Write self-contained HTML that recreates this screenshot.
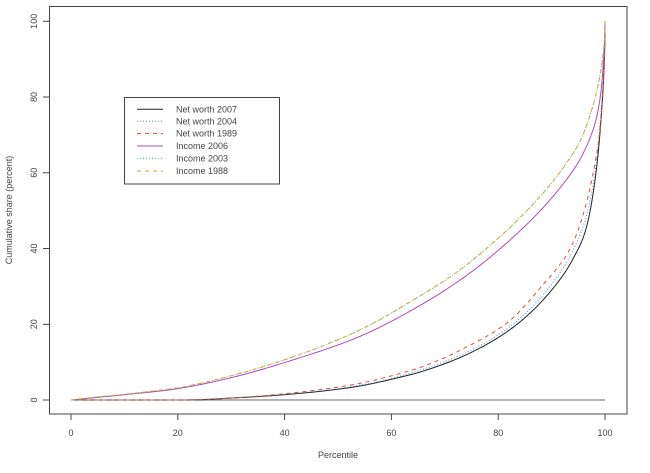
<!DOCTYPE html>
<html><head><meta charset="utf-8"><style>
html,body{margin:0;padding:0;background:#fff;}
svg{display:block;}
text{font-family:"Liberation Sans",Arial,sans-serif;font-size:9px;fill:#444;}
</style></head><body>
<svg id="s" width="650" height="473" viewBox="0 0 650 473" xmlns="http://www.w3.org/2000/svg">
<rect x="0" y="0" width="650" height="473" fill="#fff"/>
<line x1="71" y1="400" x2="605" y2="400" stroke="#666" stroke-width="1"/>
<g id="curves" transform="translate(71,400) scale(5.34,-3.787)" fill="none">
<polyline id="c0" vector-effect="non-scaling-stroke" stroke="#222" stroke-width="1" points="0,0 20,0 25,0.1 29.2,0.45 35,0.9 41.6,1.6 48,2.5 54.1,3.7 61.6,6 65.4,7.4 74.1,12 82.8,19.2 89.7,28.5 94.1,37.5 96.6,46 98.4,61 99.4,77 100,100"/>
<polyline id="c1" vector-effect="non-scaling-stroke" stroke="#3f8fd6" stroke-width="1" stroke-dasharray="1,2" points="0,0 20,0 29.2,0.5 41.6,1.7 54.1,3.9 61.6,6.3 74.1,12.6 82.8,20 89.7,30 94.1,39.8 96.6,49 98.4,63 99.4,79 100,100"/>
<polyline id="c2" vector-effect="non-scaling-stroke" stroke="#e0502c" stroke-width="1" stroke-dasharray="4,4" points="0,0 20,0 25,0.15 30,0.5 41.6,1.9 54.1,4.4 61.6,7 65.4,8.6 74.1,14 82.2,21 87.8,29.5 94.1,41.8 97.8,60 99.1,72 99.7,83 100,100"/>
<polyline id="c3" vector-effect="non-scaling-stroke" stroke="#b04cb4" stroke-width="1" points="0,0 10,1.4 20,3 30,5.9 41.6,10.6 54.1,16.8 65.4,25 74,32.8 82.8,43 91,55 95.3,63.5 97,68.5 98.4,74.5 99.2,81 99.7,89 100,100"/>
<polyline id="c4" vector-effect="non-scaling-stroke" stroke="#1ccc5a" stroke-width="1" stroke-dasharray="1,2" points="0,0 4.2,0.7 10,1.5 16.7,2.6 20,3.2 29.2,6.1 41.6,11.4 54.1,18.5 64.8,27 72,33.5 80.3,43.1 87.8,53.7 92.8,62.6 95.3,68.3 97.8,78 99.1,86 99.7,92 100,100"/>
<polyline id="c5" vector-effect="non-scaling-stroke" stroke="#e39a3a" stroke-width="1" stroke-dasharray="4,4" points="0,0 4.2,0.7 10,1.5 16.7,2.6 20,3.2 29.2,6.1 41.6,11.4 54.1,18.5 64.8,27 72,33.5 80.3,43.1 87.8,53.7 92.8,62.6 95.3,68.3 97.8,78 99.1,86 99.7,92 100,100"/>
</g>
<rect x="49.5" y="6.5" width="577.5" height="407.5" fill="none" stroke="#444" stroke-width="1"/>
<g stroke="#444" stroke-width="1">
<line x1="49.5" y1="400" x2="43" y2="400"/>
<line x1="49.5" y1="324.3" x2="43" y2="324.3"/>
<line x1="49.5" y1="248.5" x2="43" y2="248.5"/>
<line x1="49.5" y1="172.8" x2="43" y2="172.8"/>
<line x1="49.5" y1="97" x2="43" y2="97"/>
<line x1="49.5" y1="21.3" x2="43" y2="21.3"/>
<line x1="71" y1="414" x2="71" y2="420"/>
<line x1="177.8" y1="414" x2="177.8" y2="420"/>
<line x1="284.6" y1="414" x2="284.6" y2="420"/>
<line x1="391.4" y1="414" x2="391.4" y2="420"/>
<line x1="498.2" y1="414" x2="498.2" y2="420"/>
<line x1="605" y1="414" x2="605" y2="420"/>
</g>
<g text-anchor="middle">
<text transform="translate(37,400) rotate(-90)">0</text>
<text transform="translate(37,324.3) rotate(-90)">20</text>
<text transform="translate(37,248.5) rotate(-90)">40</text>
<text transform="translate(37,172.8) rotate(-90)">60</text>
<text transform="translate(37,97) rotate(-90)">80</text>
<text transform="translate(37,21.3) rotate(-90)">100</text>
<text x="71" y="436">0</text>
<text x="177.8" y="436">20</text>
<text x="284.6" y="436">40</text>
<text x="391.4" y="436">60</text>
<text x="498.2" y="436">80</text>
<text x="605" y="436">100</text>
<text x="338" y="458">Percentile</text>
<text transform="translate(12,210) rotate(-90)">Cumulative share (percent)</text>
</g>
<rect x="124.5" y="97.5" width="155" height="86.5" fill="#fff" stroke="#444" stroke-width="1"/>
<g stroke-width="1">
<line x1="137" y1="109.3" x2="163" y2="109.3" stroke="#222"/>
<line x1="137" y1="121.3" x2="163" y2="121.3" stroke="#3f8fd6" stroke-dasharray="1,2"/>
<line x1="137" y1="133.5" x2="163" y2="133.5" stroke="#e0502c" stroke-dasharray="4,4"/>
<line x1="137" y1="146" x2="163" y2="146" stroke="#b04cb4"/>
<line x1="137" y1="158.3" x2="163" y2="158.3" stroke="#1ccc5a" stroke-dasharray="1,2"/>
<line x1="137" y1="171" x2="163" y2="171" stroke="#e39a3a" stroke-dasharray="4,4"/>
</g>
<g>
<text x="176" y="112.5">Net worth 2007</text>
<text x="176" y="124.5">Net worth 2004</text>
<text x="176" y="136.7">Net worth 1989</text>
<text x="176" y="149.2">Income 2006</text>
<text x="176" y="161.5">Income 2003</text>
<text x="176" y="174.2">Income 1988</text>
</g>
</svg>
<script>
(function(){
function parse(str){return str.trim().split(/\s+/).map(function(s){var a=s.split(',');return [parseFloat(a[0]),parseFloat(a[1])];});}
function mono(pts){
  var tp=pts.map(function(p){return [Math.sqrt(Math.max(0,1-p[0]/100)),p[1]];});
  tp.sort(function(a,b){return a[0]-b[0];});
  var n=tp.length,x=tp.map(function(p){return p[0];}),y=tp.map(function(p){return p[1];});
  var d=[],m=[],i;
  for(i=0;i<n-1;i++)d.push((y[i+1]-y[i])/(x[i+1]-x[i]));
  m[0]=d[0];m[n-1]=d[n-2];
  for(i=1;i<n-1;i++)m[i]=(d[i-1]*d[i]<=0)?0:(d[i-1]+d[i])/2;
  for(i=0;i<n-1;i++){
    if(d[i]===0){m[i]=0;m[i+1]=0;continue;}
    var a=m[i]/d[i],b=m[i+1]/d[i],s=a*a+b*b;
    if(s>9){var t=3/Math.sqrt(s);m[i]=t*a*d[i];m[i+1]=t*b*d[i];}
  }
  var out=[];
  for(i=0;i<n-1;i++){
    var h=x[i+1]-x[i],steps=Math.max(6,Math.ceil(h/0.004));
    for(var k=0;k<steps;k++){
      var tt=k/steps,t2=tt*tt,t3=t2*tt;
      var v=(2*t3-3*t2+1)*y[i]+(t3-2*t2+tt)*h*m[i]+(-2*t3+3*t2)*y[i+1]+(t3-t2)*h*m[i+1];
      var tv=x[i]+tt*h;
      var p=100*(1-tv*tv);
      out.push(p.toFixed(3)+','+v.toFixed(3));
    }
  }
  out.push((100*(1-x[n-1]*x[n-1])).toFixed(3)+','+y[n-1]);
  return out.join(' ');
}
for(var c=0;c<6;c++){
  var el=document.getElementById('c'+c);
  try{el.setAttribute('points',mono(parse(el.getAttribute('points'))));}catch(e){}
}
})();
</script>
</body></html>
